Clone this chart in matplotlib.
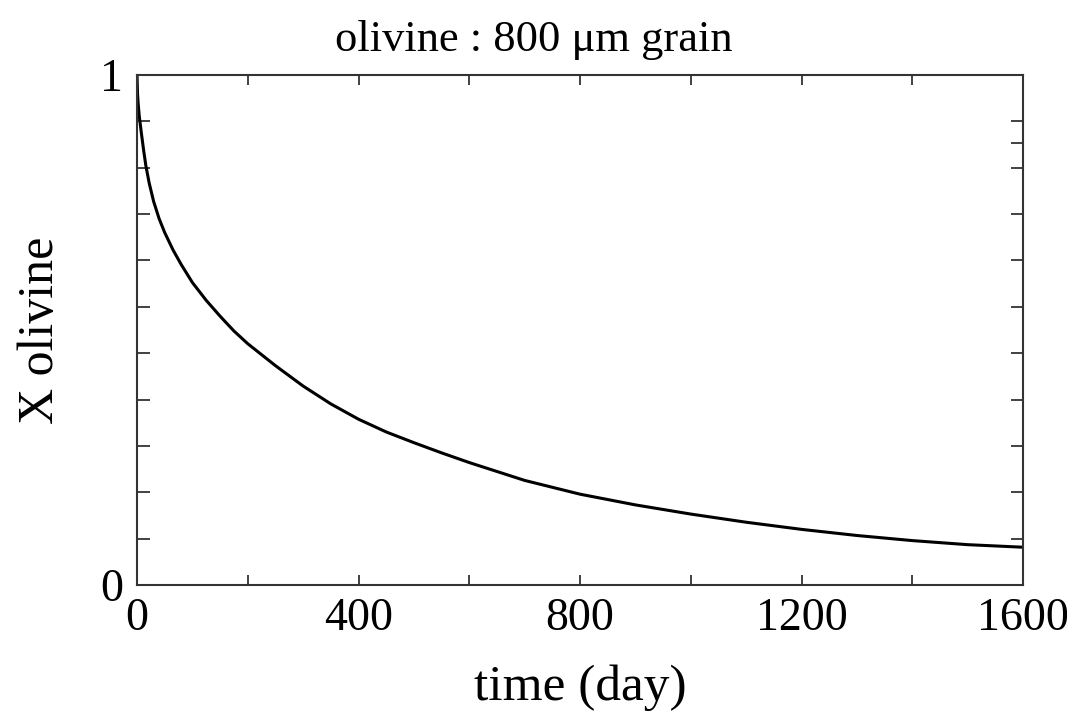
import matplotlib
matplotlib.use("Agg")
import matplotlib.pyplot as plt

# values
time_day = [0, 1, 2, 4, 8, 12, 16, 22, 30, 40, 50, 65, 80, 100, 125, 150,
            175, 200, 250, 300, 350, 400, 450, 500, 550, 600, 700, 800, 900,
            1000, 1100, 1200, 1300, 1400, 1500, 1600]
x_olivine = [1.000, 0.962, 0.945, 0.920, 0.885, 0.852, 0.822, 0.788, 0.752,
             0.718, 0.691, 0.657, 0.628, 0.593, 0.558, 0.527, 0.498, 0.473,
             0.430, 0.390, 0.355, 0.325, 0.300, 0.279, 0.259, 0.240, 0.205,
             0.178, 0.157, 0.139, 0.123, 0.109, 0.097, 0.087, 0.079, 0.074]

x_major = [0, 400, 800, 1200, 1600]
x_labels = ["0", "400", "800", "1200", "1600"]
x_minor = [200, 600, 1000, 1400]
y_major = [0, 1]
y_labels = ["0", "1"]
y_minor_left = [k / 11 for k in range(1, 11)]
y_ticks_right = [k / 11 for k in range(1, 11)] + [0.867]

plt.rcParams["font.family"] = ["Liberation Serif", "DejaVu Serif"]

fig = plt.figure(figsize=(10.67, 7.22), dpi=100)
ax = fig.add_axes([0.1284, 0.1898, 0.8304, 0.7064])

ax.plot(time_day, x_olivine, color="black", lw=2.2)
ax.set_xlim(0, 1600)
ax.set_ylim(0, 1)

ax.set_xticks(x_major)
ax.set_xticklabels(x_labels)
ax.set_xticks(x_minor, minor=True)
ax.set_yticks(y_major)
ax.set_yticklabels(y_labels)
ax.set_yticks(y_minor_left, minor=True)

ax.tick_params(axis="x", which="both", direction="in", length=7, width=1.3,
               top=True, labelsize=33, pad=9, color="#333333")
ax.tick_params(axis="y", which="both", direction="in", length=9, width=1.3,
               right=False, labelsize=33, pad=10, color="#333333")
ax.tick_params(axis="y", which="major", length=0)

for sp in ax.spines.values():
    sp.set_linewidth(1.5)
    sp.set_color("#333333")

ax2 = ax.twinx()
ax2.set_ylim(0, 1)
ax2.set_yticks(y_ticks_right)
ax2.set_yticklabels([])
ax2.tick_params(axis="y", direction="in", length=9, width=1.3, color="#333333")
for sp in ax2.spines.values():
    sp.set_visible(False)

fig.text(0.5, 0.945, "olivine : 800 \u03bcm grain", fontsize=32,
         ha="center", va="center")
ax.set_xlabel("time (day)", fontsize=37, labelpad=18)
ax.set_ylabel("X olivine", fontsize=36, labelpad=26)

fig.savefig("out.png", dpi=100)
